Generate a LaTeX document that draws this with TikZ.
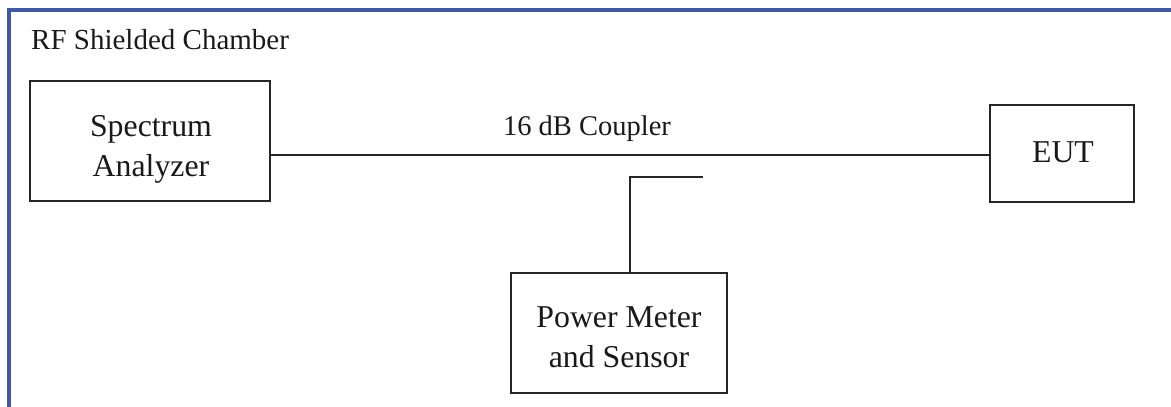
\documentclass[tikz,border=0pt]{standalone}
\usepackage{fontspec}
\setmainfont{Liberation Serif}
\definecolor{chamberblue}{RGB}{63,88,168}
\begin{document}
\begin{tikzpicture}[x=1pt,y=-1pt,
  every node/.style={text=black!90},
  boxtext/.style={font=\fontsize{31.8}{40}\selectfont, align=center, inner sep=0pt},
  box/.style={draw=black!85, line width=2pt, inner sep=0pt},
  wire/.style={draw=black!85, line width=2pt}]
\useasboundingbox (0,0) rectangle (1171,407);
% chamber border
\draw[chamberblue, line width=4pt] (9,407) -- (9,10) -- (1171,10);
\node[anchor=base west, inner sep=0pt, font=\fontsize{29}{35}\selectfont] (title) at (31,49) {RF Shielded Chamber};
% boxes
\node[box, minimum width=240pt, minimum height=120pt] (sa) at (150,141) {};
\node[boxtext] (satext) at (151,149) {Spectrum\\Analyzer};
\node[box, minimum width=144pt, minimum height=97pt] (eut) at (1062,153.5) {};
\node[boxtext] (euttext) at (1063,152.5) {EUT};
\node[box, minimum width=216pt, minimum height=120pt] (pm) at (619,333) {};
\node[boxtext] (pmtext) at (619,337.5) {Power Meter\\and Sensor};
% main line
\coordinate (mainl) at (270,155);
\draw[wire] (sa.east |- mainl) -- (eut.west |- mainl);
\node[anchor=base, inner sep=0pt, font=\fontsize{28.5}{34}\selectfont] (cpllabel) at (587,135) {16 dB Coupler};
% coupler arm
\coordinate (cplcorner) at (630,177);
\coordinate (cplend) at (703,177);
\draw[wire] (cplend) -- (cplcorner) -- (cplcorner |- pm.north);
\end{tikzpicture}
\end{document}
